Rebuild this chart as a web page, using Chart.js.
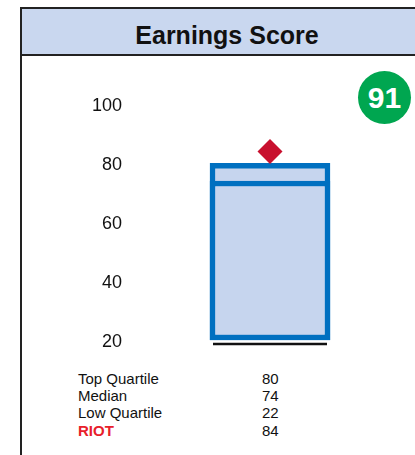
<!DOCTYPE html>
<html>
<head>
<meta charset="utf-8">
<script src="https://cdn.jsdelivr.net/npm/chart.js@4/dist/chart.umd.min.js"></script>
<style>
  html, body { margin: 0; padding: 0; background: #fff; width: 415px; height: 455px; overflow: hidden; font-family: "Liberation Sans", Arial, Helvetica, sans-serif; }
  #frame { position: absolute; left: 20px; top: 7px; width: 420px; height: 460px; border-left: 2px solid #222; border-top: 2px solid #222; box-sizing: border-box; }
  #header { position: absolute; left: 22px; top: 9px; width: 400px; height: 45px; background: #c9d7ef; border-bottom: 2px solid #222; }
  #title { position: absolute; left: 22px; top: 13px; width: 410px; height: 45px; line-height: 45px; text-align: center; font-weight: bold; font-size: 25px; color: #111; }
  #badge { position: absolute; left: 358px; top: 71px; width: 53px; height: 53px; border-radius: 50%; background: #00a650; color: #fff; font-weight: bold; font-size: 30px; line-height: 53px; text-align: center; }
  #c { position: absolute; left: 20px; top: 57px; }
  .row { position: absolute; font-size: 15px; line-height: 17px; color: #111; }
  .lab { left: 78px; }
  .val { left: 262px; }
  .red { color: #e8202a; font-weight: bold; }
</style>
</head>
<body>
<div id="frame"></div>
<div id="header"></div>
<div id="title">Earnings Score</div>
<div id="badge"></div>
<canvas id="c" width="395" height="300"></canvas>
<div id="table"></div>
<script>
const categories = ['RIOT'];
const topQuartile = [80];
const medianValues = [74];
const lowQuartile = [22];
const scoreValues = [84];
const yTickValues = [20, 40, 60, 80, 100];
const tableLabels = ['Top Quartile', 'Median', 'Low Quartile', 'RIOT'];
const tableValues = [topQuartile[0], medianValues[0], lowQuartile[0], scoreValues[0]];
const overallScore = 91;
const axisMin = yTickValues[0];
const axisMax = yTickValues[yTickValues.length - 1];

document.getElementById('badge').textContent = overallScore;
const table = document.getElementById('table');
tableLabels.forEach((l, i) => {
  const top = 370 + i * 17 + (i === 3 ? 1 : 0);
  const a = document.createElement('div');
  a.className = 'row lab' + (i === 3 ? ' red' : '');
  a.style.top = top + 'px';
  a.textContent = l;
  const b = document.createElement('div');
  b.className = 'row val';
  b.style.top = top + 'px';
  b.textContent = tableValues[i];
  table.appendChild(a); table.appendChild(b);
});

// baseline drawn under the box, from the bar element's own geometry
const baseLine = {
  id: 'baseLine',
  afterDatasetsDraw(chart) {
    const meta = chart.getDatasetMeta(0);
    const ctx = chart.ctx;
    meta.data.forEach(bar => {
      const p = bar.getProps(['x', 'base', 'width'], true);
      ctx.save();
      ctx.strokeStyle = '#111';
      ctx.lineWidth = 2.5;
      ctx.beginPath();
      ctx.moveTo(p.x - p.width / 2 + 3, p.base + 4);
      ctx.lineTo(p.x + p.width / 2 - 3, p.base + 4);
      ctx.stroke();
      ctx.restore();
    });
  }
};

const boxStyle = {
  type: 'bar',
  base: axisMin,
  backgroundColor: '#c6d5ee',
  borderColor: '#0070c0',
  borderWidth: 5.5,
  borderSkipped: false,
  barThickness: 120,
  grouped: false,
  clip: false
};

new Chart(document.getElementById('c'), {
  type: 'bar',
  data: {
    labels: categories,
    datasets: [
      Object.assign({ data: topQuartile, order: 4 }, boxStyle),
      Object.assign({ data: medianValues, order: 3 }, boxStyle),
      {
        type: 'line',
        data: scoreValues,
        showLine: false,
        pointStyle: 'rectRot',
        pointRadius: 12.5,
        pointHoverRadius: 12.5,
        pointBorderWidth: 0,
        pointBackgroundColor: '#c8102e',
        pointBorderColor: '#c8102e',
        clip: false,
        order: 0
      }
    ]
  },
  plugins: [baseLine],
  options: {
    responsive: false,
    animation: false,
    events: [],
    devicePixelRatio: 1,
    layout: { autoPadding: false, padding: { top: 47.5, bottom: 17, left: 0, right: 0 } },
    plugins: { legend: { display: false }, tooltip: { enabled: false } },
    scales: {
      x: { display: false },
      y: {
        min: axisMin, max: axisMax,
        afterBuildTicks: (s) => { s.ticks = yTickValues.map(v => ({ value: v })); },
        afterFit: (s) => { s.width = 105; },
        grid: { display: false, drawTicks: false, tickLength: 0 },
        border: { display: false },
        ticks: { color: '#111', padding: 3, labelOffset: 2, font: { family: '"Liberation Sans", Arial, sans-serif', size: 18 } }
      }
    }
  }
});
</script>
</body>
</html>
